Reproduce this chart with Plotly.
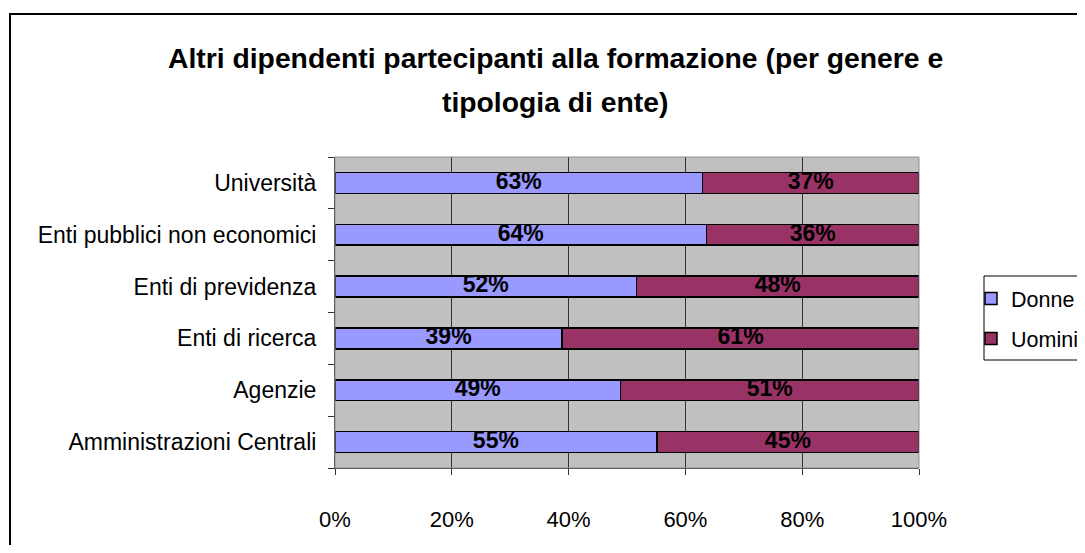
import plotly.graph_objects as go

categories = ["Amministrazioni Centrali", "Agenzie", "Enti di ricerca",
              "Enti di previdenza", "Enti pubblici non economici", "Università"]
donne = [55.1, 48.9, 38.9, 51.6, 63.6, 62.9]
uomini = [44.9, 51.1, 61.1, 48.4, 36.4, 37.1]
x_ticks = [0, 20, 40, 60, 80, 100]
x_tick_labels = ["0%", "20%", "40%", "60%", "80%", "100%"]
title_lines = ["Altri dipendenti partecipanti alla formazione (per genere e",
               "tipologia di ente)"]

OFF = 8  # default body margin of the page
W, H = 1085 - 2 * OFF, 553 - 2 * OFF
L, R, T, B = 335 - OFF, 919 - OFF, 157 - OFF, 468 - OFF
pw, ph = R - L, B - T


def px_x(p):  # reference pixel -> paper x
    return (p - OFF - L) / pw


def px_y(p):  # reference pixel -> paper y
    return (B - (p - OFF)) / ph


base_font = "Liberation Sans, Arial, sans-serif"
label_font = dict(family="Liberation Sans, Arial", size=23, color="black")

fig = go.Figure()
fig.add_trace(go.Bar(
    y=categories, x=donne, name="Donne", orientation="h",
    marker=dict(color="#9999FF", line=dict(color="black", width=1.5)),
    legendgroup="d", hoverinfo="x+y",
))
fig.add_trace(go.Bar(
    y=categories, x=uomini, name="Uomini", orientation="h",
    marker=dict(color="#993366", line=dict(color="black", width=1.5)),
    legendgroup="u", hoverinfo="x+y",
))

# value labels centred in each segment
d_mid = [d / 2 for d in donne]
u_mid = [d + u / 2 for d, u in zip(donne, uomini)]
fig.add_trace(go.Scatter(
    y=categories + categories, x=d_mid + u_mid, mode="text",
    text=[f"<b>{round(v)}%</b>" for v in donne + uomini],
    textposition="middle center", textfont=label_font,
    showlegend=False, hoverinfo="skip",
))

fig.update_layout(
    width=W, height=H,
    barmode="stack", bargap=0.6,
    plot_bgcolor="#C0C0C0", paper_bgcolor="white",
    margin=dict(l=L, r=W - R, t=T, b=H - B, pad=0, autoexpand=False),
    font=dict(family=base_font, size=22, color="black"),
    showlegend=True,
    legend=dict(
        x=px_x(971), y=px_y(278), xanchor="left", yanchor="top",
        borderwidth=0, bgcolor="rgba(0,0,0,0)",
        font=dict(family=base_font, size=21.5, color="black"),
        traceorder="grouped", tracegroupgap=9, itemwidth=30,
    ),
    xaxis=dict(
        range=[0, 100], tickvals=x_ticks, ticktext=x_tick_labels,
        showgrid=True, gridcolor="#333333", gridwidth=1,
        showline=True, linecolor="#333333", linewidth=1,
        ticks="outside", ticklen=6, tickcolor="#333333",
        ticklabelstandoff=26, zeroline=False, fixedrange=True,
        tickfont=dict(size=22), automargin=False,
    ),
    yaxis=dict(
        categoryorder="array", categoryarray=categories,
        showgrid=False, showline=True, linecolor="#333333", linewidth=1,
        ticks="outside", ticklen=6, tickcolor="#333333", tickson="boundaries",
        ticklabelstandoff=13, tickfont=dict(size=23), fixedrange=True,
        automargin=False,
    ),
    shapes=[
        dict(type="rect", xref="paper", yref="paper",
             x0=px_x(10), x1=px_x(1100),
             y0=px_y(570), y1=px_y(14),
             line=dict(color="black", width=2), fillcolor="rgba(0,0,0,0)", layer="below"),
        dict(type="rect", xref="paper", yref="paper", x0=0, x1=1, y0=0, y1=1,
             line=dict(color="#909090", width=1), fillcolor="rgba(0,0,0,0)"),
        # legend frame
        dict(type="rect", xref="paper", yref="paper",
             x0=px_x(984), x1=px_x(1100), y0=px_y(360), y1=px_y(276),
             line=dict(color="black", width=1), fillcolor="white", layer="below"),
    ],
    annotations=[
        dict(text=f"<b>{title_lines[0]}</b>", xref="paper", yref="paper",
             x=px_x(555), y=px_y(58), showarrow=False,
             xanchor="center", yanchor="middle",
             font=dict(family=base_font, size=28.3, color="black")),
        dict(text=f"<b>{title_lines[1]}</b>", xref="paper", yref="paper",
             x=px_x(555), y=px_y(102), showarrow=False,
             xanchor="center", yanchor="middle",
             font=dict(family=base_font, size=28.3, color="black")),
    ],
)

fig.write_html("out.html")
